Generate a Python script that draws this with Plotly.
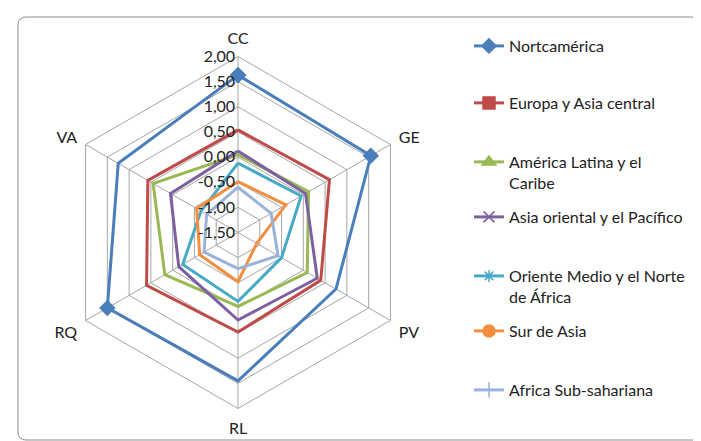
import plotly.graph_objects as go

categories = ["CC", "GE", "PV", "RL", "RQ", "VA"]

series_names = [
    "Nortcamérica",
    "Europa y Asia central",
    "América Latina y el<br>Caribe",
    "Asia oriental y el Pacífico",
    "Oriente Medio y el Norte<br>de África",
    "Sur de Asia",
    "Africa Sub-sahariana",
]

nortamerica = [1.63, 1.55, 0.75, 1.45, 1.50, 1.25]
europa_asia_central = [0.54, 0.60, 0.40, 0.48, 0.60, 0.57]
america_latina = [0.05, 0.12, 0.09, -0.03, 0.18, 0.45]
asia_oriental = [0.12, 0.05, 0.32, 0.24, -0.14, 0.05]
oriente_medio = [-0.12, -0.05, -0.50, -0.13, -0.23, -0.65]
sur_asia = [-0.49, -0.40, -1.07, -0.52, -0.62, -0.55]
africa_sub = [-0.60, -0.74, -0.58, -0.78, -0.72, -0.78]

tick_values = [-1.5, -1.0, -0.5, 0.0, 0.5, 1.0, 1.5, 2.0]
tick_labels = ["-1,50", "-1,00", "-0,50", "0,00", "0,50", "1,00", "1,50", "2,00"]

all_values = [nortamerica, europa_asia_central, america_latina, asia_oriental,
              oriente_medio, sur_asia, africa_sub]
colors = ["#4A7EBB", "#BE4B48", "#98B954", "#7D60A0", "#46AAC5", "#F38E3E", "#9AB2DA"]
symbols = ["diamond", "square", "triangle-up", "x-thin", "asterisk", "circle", "cross-thin"]
msizes = [11, 12, 12, 11, 10, 12, 11]
legend_ids = ["legend", "legend2", "legend3", "legend4", "legend5", "legend6", "legend7"]
legend_centers = [47, 104, 163, 218, 277, 332, 391]

W, H = 701, 441
FONT = "Lato"
FS = 16

fig = go.Figure()
for name, vals, col, sym, ms, lg in zip(series_names, all_values, colors, symbols, msizes, legend_ids):
    fig.add_trace(go.Scatterpolar(
        r=vals + vals[:1],
        theta=categories + categories[:1],
        mode="lines+markers",
        name=name,
        line=dict(color=col, width=3),
        marker=dict(symbol=sym, size=ms, color=col, line=dict(color=col, width=1.5)),
        legend=lg,
        showlegend=True,
    ))

cx, cy, R = 230.0, 224.5, 176
layout_kw = dict(
    width=W, height=H,
    showlegend=True,
    margin=dict(l=0, r=0, t=0, b=0),
    paper_bgcolor="white",
    font=dict(family=FONT, size=FS, color="#222222"),
    polar=dict(
        domain=dict(x=[(cx - R) / W, (cx + R) / W], y=[1 - (cy + R) / H, 1 - (cy - R) / H]),
        gridshape="linear",
        bgcolor="white",
        angularaxis=dict(
            rotation=90, direction="clockwise",
            showline=True, linecolor="#A6A6A6", linewidth=1,
            gridcolor="#A6A6A6", gridwidth=1,
            ticks="outside", ticklen=6, tickcolor="rgba(0,0,0,0)",
            tickfont=dict(size=FS, family=FONT, color="#222222"),
        ),
        radialaxis=dict(
            range=[-1.5, 2.0], angle=90, side="counterclockwise",
            tickvals=tick_values, ticktext=tick_labels, tickangle=90,
            showline=False, ticks="", gridcolor="#A6A6A6", gridwidth=1,
            tickfont=dict(size=FS, family=FONT, color="#222222"),
        ),
    ),
    shapes=[dict(
        type="path", xref="paper", yref="paper",
        path=("M {a},{b} L {c},{b} Q {d},{b} {d},{e} L {d},{f} Q {d},{g} {c},{g} "
              "L {a},{g} Q {h},{g} {h},{f} L {h},{e} Q {h},{b} {a},{b} Z").format(
            a=18 / W, c=689 / W, d=697 / W, h=10 / W,
            b=1 - 9 / H, e=1 - 17 / H, f=1 - 424 / H, g=1 - 432 / H),
        line=dict(color="#8C8C8C", width=1), fillcolor="rgba(0,0,0,0)",
    )],
)
for lg, yc in zip(legend_ids, legend_centers):
    layout_kw[lg] = dict(
        x=461 / W, xanchor="left",
        y=1 - (yc - 26) / H, yanchor="top",
        bgcolor="rgba(0,0,0,0)", valign="top",
        font=dict(family=FONT, size=FS, color="#222222"),
        itemclick=False, visible=True,
    )
fig.update_layout(**layout_kw)

fig.write_html("out.html", config={"displayModeBar": False})
